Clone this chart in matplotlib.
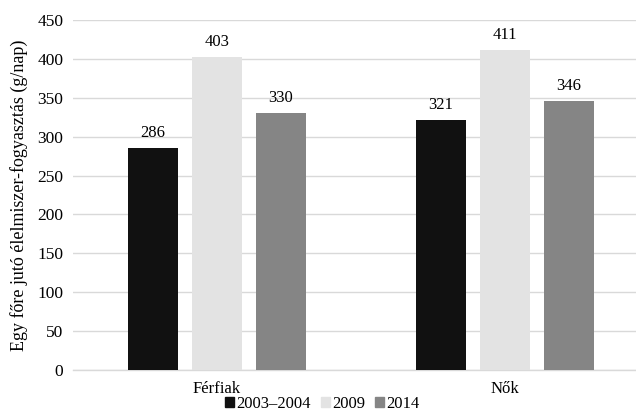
import numpy as np
import matplotlib
matplotlib.use("Agg")
import matplotlib.pyplot as plt
from matplotlib.patches import Patch

# data
groups = ["Férfiak", "Nők"]
series_names = ["2003–2004", "2009", "2014"]
vals_2003 = [286, 321]
vals_2009 = [403, 411]
vals_2014 = [330, 346]
series_vals = [vals_2003, vals_2009, vals_2014]
colors = ["#111111", "#e3e3e3", "#858585"]

plt.rcParams["font.family"] = ["Liberation Serif", "DejaVu Serif"]

W, H = 636, 416
fig = plt.figure(figsize=(W / 100, H / 100), dpi=100)
ax = fig.add_axes([73 / W, 1 - 370 / H, (W - 73) / W, 350 / H])

x = np.arange(len(groups))
bar_w = 50 / 288
step = 64 / 288
for i, (vals, col) in enumerate(zip(series_vals, colors)):
    pos = x + (i - 1) * step
    bars = ax.bar(pos, vals, width=bar_w, color=col, zorder=3)
    for b, v in zip(bars, vals):
        ax.annotate(str(v), (b.get_x() + b.get_width() / 2, v), xytext=(0, 5),
                    textcoords="offset points", ha="center", va="bottom", fontsize=12)

ax.set_xlim(-0.5, (W - 217) / 288)
ax.set_ylim(0, 450)
ax.set_yticks(np.arange(0, 451, 50))
ax.set_xticks(x)
ax.set_xticklabels(groups)
ax.grid(axis="y", color="#d9d9d9", linewidth=1, zorder=0)
for s in ["top", "right", "left"]:
    ax.spines[s].set_visible(False)
ax.spines["bottom"].set_color("#d9d9d9")
ax.spines["bottom"].set_linewidth(1)
ax.tick_params(axis="both", length=0, labelsize=12.5)
ax.tick_params(axis="x", labelsize=12)
ax.tick_params(axis="y", pad=7)
ax.tick_params(axis="x", pad=8)
ax.set_ylabel("Egy főre jutó élelmiszer-fogyasztás (g/nap)", fontsize=13, labelpad=7)

handles = [Patch(color=c) for c in colors]
fig.legend(handles, series_names, loc="lower center", bbox_to_anchor=(0.507, -0.027),
           ncol=3, frameon=False, fontsize=12, handlelength=0.55, handleheight=0.55,
           handletextpad=0.12, columnspacing=0.6)

fig.savefig("out.png", dpi=100)
